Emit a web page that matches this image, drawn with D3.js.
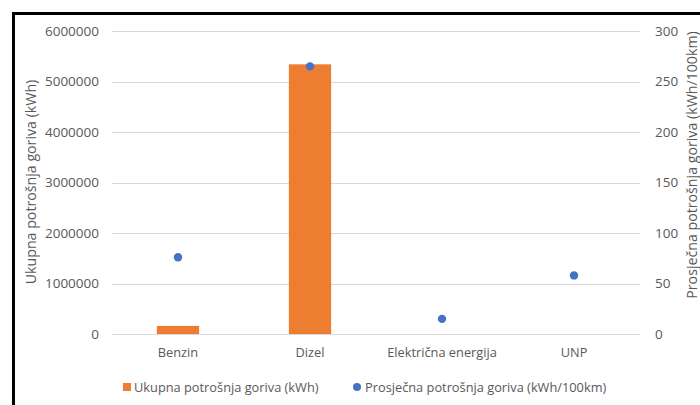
<!DOCTYPE html>
<html>
<head>
<meta charset="utf-8">
<script src="https://cdn.jsdelivr.net/npm/d3@7"></script>
<style>
  html, body { margin: 0; padding: 0; background: #fff; }
  svg { display: block; font-family: "Open Sans", "Liberation Sans", sans-serif; }
</style>
</head>
<body>
<svg id="chart" width="700" height="405"></svg>
<script>
const categories = ["Benzin", "Dizel", "Električna energija", "UNP"];
const totalConsumption = [160000, 5340000, 0, 0];          // kWh (bars, left axis)
const avgConsumption = [76, 265, 15, 58];                  // kWh/100km (dots, right axis)
const leftTicks = [0, 1000000, 2000000, 3000000, 4000000, 5000000, 6000000];
const rightTicks = [0, 50, 100, 150, 200, 250, 300];
const seriesNames = ["Ukupna potrošnja goriva (kWh)", "Prosječna potrošnja goriva (kWh/100km)"];
const leftTitle = "Ukupna potrošnja goriva (kWh)";
const rightTitle = "Prosječna potrošnja goriva (kWh/100km)";

const orange = "#ED7D31", blue = "#4472C4", textCol = "#595959", gridCol = "#d9d9d9";

const svg = d3.select("#chart");
const plot = { left: 112, right: 640, top: 31, bottom: 334 };

const x = d3.scaleBand().domain(categories).range([plot.left, plot.right])
  .paddingInner(0.68).paddingOuter(0.34);
const yL = d3.scaleLinear().domain([0, 6000000]).range([plot.bottom, plot.top]);
const yR = d3.scaleLinear().domain([0, 300]).range([plot.bottom, plot.top]);

// frame (left + top black border)
svg.append("path").attr("d", "M13.5,405 L13.5,13.5 L700,13.5")
  .attr("fill", "none").attr("stroke", "#000").attr("stroke-width", 3);

// gridlines
svg.append("g").selectAll("line").data(leftTicks).join("line")
  .attr("x1", plot.left).attr("x2", plot.right)
  .attr("y1", d => Math.round(yL(d)) + 0.5).attr("y2", d => Math.round(yL(d)) + 0.5)
  .attr("stroke", gridCol).attr("stroke-width", 1);

// left axis labels
const axL = d3.axisLeft(yL).tickValues(leftTicks).tickFormat(d3.format("d")).tickSize(0).tickPadding(0);
const gL = svg.append("g").attr("transform", `translate(99,0)`).call(axL);
gL.select(".domain").remove();
gL.selectAll("text").attr("fill", textCol).style("font-size", "13.5px")
  .style("font-family", "'Open Sans', sans-serif");

// right axis labels
const axR = d3.axisRight(yR).tickValues(rightTicks).tickSize(0).tickPadding(0);
const gR = svg.append("g").attr("transform", `translate(655,0)`).call(axR);
gR.select(".domain").remove();
gR.selectAll("text").attr("fill", textCol).style("font-size", "13.5px")
  .style("font-family", "'Open Sans', sans-serif");

// x labels
const axX = d3.axisBottom(x).tickSize(0).tickPadding(0);
const gX = svg.append("g").attr("transform", `translate(0,${plot.bottom + 14})`).call(axX);
gX.select(".domain").remove();
gX.selectAll("text").attr("fill", textCol).style("font-size", "12.8px")
  .style("font-family", "'Open Sans', sans-serif");

// bars
svg.append("g").selectAll("rect").data(categories.map((c, i) => ({ c, v: totalConsumption[i] })))
  .join("rect")
  .attr("x", d => x(d.c)).attr("width", x.bandwidth())
  .attr("y", d => yL(d.v)).attr("height", d => yL(0) - yL(d.v))
  .attr("fill", orange);

// dots
svg.append("g").selectAll("circle").data(categories.map((c, i) => ({ c, v: avgConsumption[i] })))
  .join("circle")
  .attr("cx", d => x(d.c) + x.bandwidth() / 2).attr("cy", d => yR(d.v))
  .attr("r", 4.2).attr("fill", blue);

// axis titles
svg.append("text").attr("transform", "translate(36,182) rotate(-90)")
  .attr("text-anchor", "middle").attr("fill", textCol).style("font-size", "14.2px")
  .text(leftTitle);
svg.append("text").attr("transform", "translate(697,165) rotate(-90)")
  .attr("text-anchor", "middle").attr("fill", textCol).style("font-size", "14.2px")
  .text(rightTitle);

// legend
const lg = svg.append("g").attr("transform", "translate(0,387)");
lg.append("rect").attr("x", 123).attr("y", -4).attr("width", 8).attr("height", 8).attr("fill", orange);
lg.append("text").attr("x", 134).attr("y", 4.5).attr("fill", textCol).style("font-size", "12.8px").text(seriesNames[0]);
lg.append("circle").attr("cx", 357).attr("cy", 0).attr("r", 4).attr("fill", blue);
lg.append("text").attr("x", 365).attr("y", 4.5).attr("fill", textCol).style("font-size", "12.8px").text(seriesNames[1]);
</script>
</body>
</html>
